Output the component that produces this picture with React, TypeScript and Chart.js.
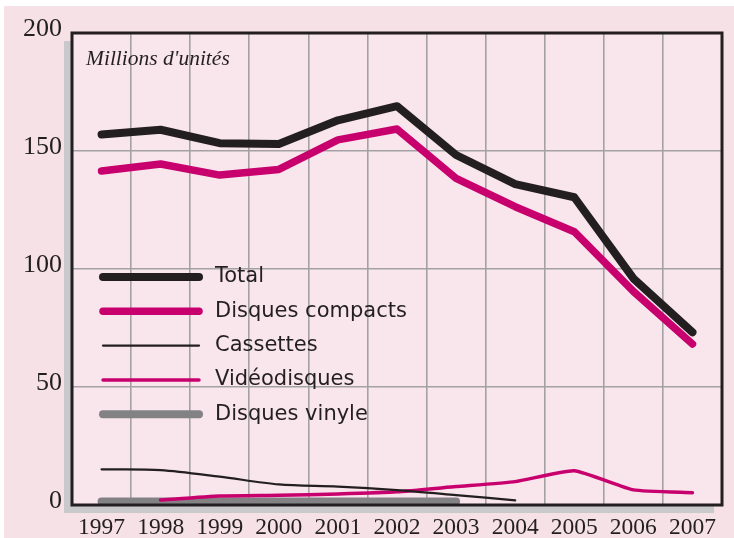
import React, { useEffect, useRef } from "react";
import { Chart, registerables } from "chart.js";

Chart.register(...registerables);

const years = ["1997", "1998", "1999", "2000", "2001", "2002", "2003", "2004", "2005", "2006", "2007"];
const total = [157, 159, 153.3, 153, 163, 169, 148.3, 136, 130.4, 96, 73.2];
const disquesCompacts = [141.5, 144.5, 139.8, 142.2, 154.7, 159.3, 138.4, 126.4, 115.8, 90.5, 68.2];
const cassettes = [15.1, 14.8, 12, 8.7, 7.8, 6.3, 4.2, 2, null, null, null];
const videodisques = [null, 2.1, 3.8, 4.1, 4.7, 5.6, 7.8, 9.9, 14.5, 6.4, 5.2];
const vinyle = [1.5, 1.5, 1.5, 1.5, 1.5, 1.5, 1.5, null, null, null, null];
const seriesLabels = ["Total", "Disques compacts", "Cassettes", "Vidéodisques", "Disques vinyle"];
const unitLabel = "Millions d'unités";
const yMin = 0;
const yMax = 200;
const yStep = 50;

const DARK = "#231f20";
const MAGENTA = "#c8006e";
const GREY = "#828284";

const framePlugin = {
  id: "frame",
  beforeDraw(chart: any) {
    const { ctx, chartArea: a } = chart;
    ctx.save();
    ctx.fillStyle = "#ffffff";
    ctx.fillRect(0, 0, chart.width, chart.height);
    ctx.fillStyle = "#f5e1e6";
    ctx.fillRect(4, 6, chart.width - 4, chart.height - 6);
    ctx.fillStyle = "#c9c9cb";
    ctx.fillRect(a.left - 8, a.top + 8, a.right - a.left, a.bottom - a.top);
    ctx.fillStyle = "#f9e5ec";
    ctx.fillRect(a.left, a.top, a.right - a.left, a.bottom - a.top);
    ctx.restore();
  },
  afterDraw(chart: any) {
    const { ctx, chartArea: a } = chart;
    ctx.save();
    ctx.strokeStyle = DARK;
    ctx.lineWidth = 3;
    ctx.strokeRect(a.left, a.top, a.right - a.left, a.bottom - a.top);
    // unit label
    ctx.fillStyle = DARK;
    ctx.font = "italic 21.5px 'Liberation Serif'";
    ctx.textBaseline = "alphabetic";
    ctx.textAlign = "left";
    ctx.fillText(unitLabel, a.left + 14, a.top + 32);
    // legend
    const x0 = a.left + 31;
    const x1 = a.left + 127;
    const tx = a.left + 143;
    const y0 = a.top + 244;
    const step = 34.3;
    chart.data.datasets.forEach((ds: any, i: number) => {
      const y = y0 + i * step;
      ctx.beginPath();
      ctx.strokeStyle = ds.borderColor;
      ctx.lineWidth = ds.borderWidth;
      ctx.lineCap = "round";
      ctx.moveTo(x0, y);
      ctx.lineTo(x1, y);
      ctx.stroke();
      ctx.fillStyle = DARK;
      ctx.font = "21px 'DejaVu Sans'";
      ctx.textBaseline = "middle";
      ctx.fillText(ds.label, tx, y);
    });
    ctx.restore();
  },
};

export default function App() {
  const ref = useRef<HTMLCanvasElement>(null);
  useEffect(() => {
    if (!ref.current) return;
    const mk = (label: string, data: any[], color: string, width: number, tension = 0) => ({
      label,
      data,
      borderColor: color,
      backgroundColor: color,
      borderWidth: width,
      pointRadius: 0,
      borderCapStyle: "round",
      borderJoinStyle: "round",
      tension,
      fill: false,
      spanGaps: false,
    });
    const chart = new Chart(ref.current, {
      type: "line",
      data: {
        labels: years,
        datasets: [
          mk(seriesLabels[0], total, DARK, 8),
          mk(seriesLabels[1], disquesCompacts, MAGENTA, 7.5),
          mk(seriesLabels[2], cassettes, DARK, 2.2, 0.3),
          mk(seriesLabels[3], videodisques, MAGENTA, 3.5, 0.15),
          mk(seriesLabels[4], vinyle, GREY, 8),
        ] as any,
      },
      options: {
        responsive: false,
        animation: false,
        devicePixelRatio: 1,
        layout: { padding: { left: 0, top: 33, right: 12, bottom: 0 } },
        plugins: { legend: { display: false }, tooltip: { enabled: false }, title: { display: false } },
        scales: {
          x: {
            type: "category",
            offset: true,
            grid: { offset: true, color: "#a3a1a3", lineWidth: 1.6, drawTicks: false },
            border: { display: false },
            ticks: {
              color: DARK,
              font: { family: "'Liberation Serif'", size: 23.5 },
              padding: 9,
              maxRotation: 0,
              autoSkip: false,
            },
            afterFit(scale: any) {
              scale.height = 33;
            },
          },
          y: {
            min: yMin,
            max: yMax,
            grid: { color: "#a3a1a3", lineWidth: 1.6, drawTicks: false },
            border: { display: false },
            ticks: {
              stepSize: yStep,
              color: DARK,
              font: { family: "'Liberation Serif'", size: 26 },
              padding: 10,
              labelOffset: -4,
            },
            afterFit(scale: any) {
              scale.width = 72;
            },
          },
        },
      },
      plugins: [framePlugin],
    });
    return () => chart.destroy();
  }, []);
  return (
    <div style={{ position: "absolute", left: 0, top: 0, width: 734, height: 538 }}>
      <canvas ref={ref} width={734} height={538} style={{ width: 734, height: 538, display: "block" }} />
    </div>
  );
}
